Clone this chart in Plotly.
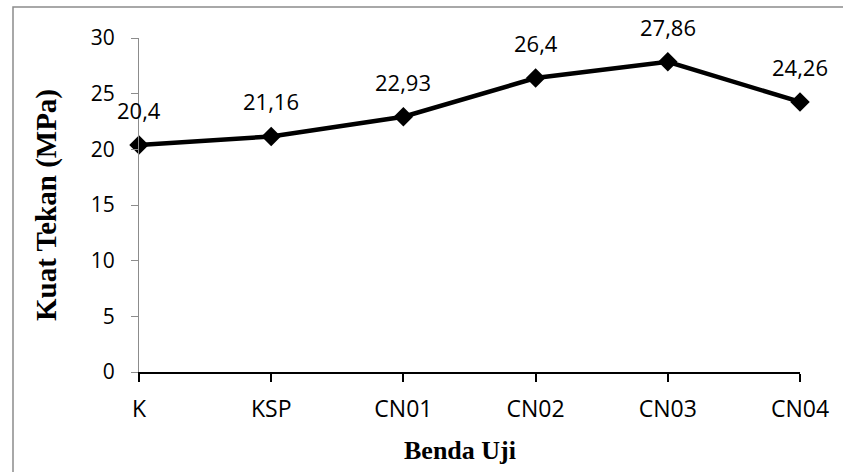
import plotly.graph_objects as go

categories = ["K", "KSP", "CN01", "CN02", "CN03", "CN04"]
values = [20.4, 21.16, 22.93, 26.4, 27.86, 24.26]
labels = ["20,4", "21,16", "22,93", "26,4", "27,86", "24,26"]
y_ticks = [0, 5, 10, 15, 20, 25, 30]

W, H = 843, 472
L, R, T, B = 139, 43, 38, 100
pw, ph = W - L - R, H - T - B

def px_x(x):
    return (x - L) / pw

def px_y(y):
    return (H - B - y) / ph

ytick_font = dict(family="Open Sans, sans-serif", size=21, color="#000000")
xtick_font = dict(family="Open Sans, sans-serif", size=23, color="#000000")
label_font = dict(family="Open Sans, sans-serif", size=22, color="#000000")
serif = "Liberation Serif, Times New Roman, serif"

fig = go.Figure()
fig.add_trace(go.Scatter(
    x=categories, y=values, mode="lines+markers",
    line=dict(color="#000000", width=4.5),
    marker=dict(symbol="diamond", size=15, color="#000000", line=dict(width=0)),
    cliponaxis=False, showlegend=False, hoverinfo="skip",
))

annotations = []
for c, v, t in zip(categories, values, labels):
    annotations.append(dict(x=c, y=v, xref="x", yref="y", text=t, showarrow=False,
                            yshift=35, font=label_font, xanchor="center", yanchor="middle"))
annotations.append(dict(x=px_x(46), y=0.5, xref="paper", yref="paper",
                        text="<b>Kuat Tekan (MPa)</b>", textangle=-90, showarrow=False,
                        font=dict(family=serif, size=29, color="#000000"),
                        xanchor="center", yanchor="middle"))
annotations.append(dict(x=px_x(460), y=px_y(450), xref="paper", yref="paper",
                        text="<b>Benda Uji</b>", showarrow=False,
                        font=dict(family=serif, size=26, color="#000000"),
                        xanchor="center", yanchor="middle"))

fig.update_layout(
    width=W, height=H, margin=dict(l=L, r=R, t=T, b=B, pad=0),
    paper_bgcolor="white", plot_bgcolor="white",
    annotations=annotations,
    shapes=[dict(type="rect", xref="paper", yref="paper",
                 x0=px_x(13), x1=px_x(850), y0=px_y(480), y1=px_y(7),
                 line=dict(color="#8c8c8c", width=1.5), layer="below")],
)
fig.update_xaxes(
    type="category", range=[0, len(categories) - 1],
    showline=True, linecolor="#000000", linewidth=1.5,
    ticks="outside", ticklen=8, tickwidth=1.5, tickcolor="#000000",
    showgrid=False, zeroline=False, tickfont=xtick_font, ticklabelstandoff=8,
)
fig.update_yaxes(
    range=[0, 30], tickvals=y_ticks,
    showline=True, linecolor="#8c8c8c", linewidth=1.2,
    ticks="outside", ticklen=7, tickwidth=1.2, tickcolor="#8c8c8c",
    showgrid=False, zeroline=False, tickfont=ytick_font, ticklabelstandoff=12,
)

fig.write_html("out.html")
